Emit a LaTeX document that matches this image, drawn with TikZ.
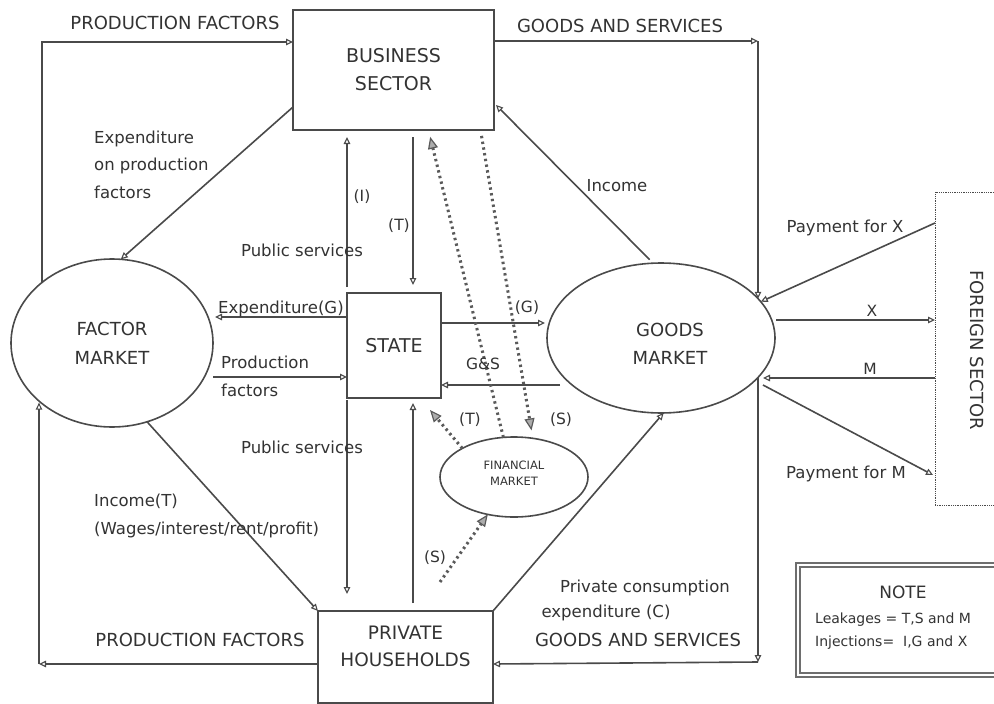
\documentclass[tikz,border=0pt]{standalone}
\usepackage{fontspec}
\setmainfont{DejaVu Sans}
\usetikzlibrary{arrows.meta,shapes.geometric,calc}
\definecolor{linec}{HTML}{4A4A4A}
\definecolor{textc}{HTML}{333333}
\definecolor{dotc}{HTML}{5A5A5A}
\begin{document}
\begin{tikzpicture}[x=1pt,y=-1pt,
  ln/.style={draw=linec, line width=1.6pt},
  conn/.style={ln, -{Triangle[open,length=7pt,width=6.5pt,line width=1.1pt]}},
  dconn/.style={draw=dotc, line width=3pt, line cap=butt, dash pattern=on 2.4pt off 3.4pt,
     -{Triangle[length=12pt,width=10pt,fill=dotc!50,line width=1.2pt]}},
  box/.style={draw=linec, line width=1.6pt, rectangle, inner sep=0pt, outer sep=0pt},
  oval/.style={draw=linec, line width=1.6pt, ellipse, inner sep=0pt, outer sep=0pt},
  captxt/.style={font=\fontsize{18}{28}\selectfont, text=textc, align=center, inner sep=0pt},
  lab/.style={font=\fontsize{16.5}{27.5}\selectfont, text=textc, inner sep=0pt},
  small/.style={font=\fontsize{15.5}{18}\selectfont, text=textc, inner sep=0pt},
]
\useasboundingbox (0,0) rectangle (994,704);
\fill[white] (0,0) rectangle (994,704);

% ---------- nodes ----------
\node[box, captxt, font=\fontsize{19}{28}\selectfont, minimum width=201pt, minimum height=120pt] (bus) at (393.5,70) {BUSINESS\\SECTOR};
\node[box, captxt, font=\fontsize{19}{28}\selectfont, minimum width=94pt, minimum height=105pt] (state) at (394,345.5) {STATE};
\node[oval, captxt, font=\fontsize{18}{29}\selectfont, minimum width=202pt, minimum height=168pt] (fm) at (112,343) {FACTOR\\MARKET};
\node[oval, minimum width=228pt, minimum height=150pt] (gm) at (661,338) {};
\node[captxt, font=\fontsize{18}{28}\selectfont] (gmtext) at (670,344) {GOODS\\MARKET};
\node[oval, minimum width=148pt, minimum height=80pt] (fin) at (514,477) {};
\node[captxt, font=\fontsize{11.5}{15.5}\selectfont] (fintext) at (514,473) {FINANCIAL\\MARKET};
\node[box, minimum width=175pt, minimum height=92pt] (hh) at (405.5,657) {};
\node[captxt, font=\fontsize{18.5}{27}\selectfont] (hhtext) at (405.5,646.5) {PRIVATE\\HOUSEHOLDS};
\node[draw=linec, line width=0.8pt, densely dotted, rectangle, minimum width=80pt, minimum height=313pt, inner sep=0pt, outer sep=0pt] (fs) at (975,348.5) {};
\node[captxt, rotate=-90] (fstext) at (977,350) {FOREIGN SECTOR};
\node[draw=linec!80, double=white, double distance=1.5pt, line width=2pt, rectangle, minimum width=220pt, minimum height=110pt, inner sep=0pt, outer sep=0pt] (note) at (908,620) {};
\node[captxt, font=\fontsize{17}{20}\selectfont] (notetitle) at (903,592) {NOTE};
\node[font=\fontsize{14}{17}\selectfont, text=textc, inner sep=0pt, anchor=west] (leak) at (815,620) {Leakages = T,S and M};
\node[font=\fontsize{14}{17}\selectfont, text=textc, inner sep=0pt, anchor=west] (inj) at (815,643) {Injections=\ \ I,G and X};

% ---------- corner coordinates ----------
\coordinate (tl) at (42,42);
\coordinate (tr) at (758,41);
\coordinate (br) at (758,662);
\coordinate (bl) at (39,664);
\coordinate (tx) at ($(state.north east)+(-28,0)$);

% ---------- outer loop ----------
\draw[conn] (tl |- fm.139) -- (tl) -- (bus.west |- tl);
\draw[conn] (bus.east |- tr) -- (tr);
\draw[conn] (tr) -- (tr |- gm.22);
\draw[conn] (tr |- gm.-22) -- (br);
\draw[conn] (br) -- (hh.east |- bl);
\draw[conn] (hh.west |- bl) -- (bl);
\draw[conn] (bl) -- (bl |- fm.220);

% ---------- inner solid connectors ----------
\draw[conn] ($(bus.south west)+(0,-23)$) -- (fm.84);
\draw[conn, shorten <=6pt, shorten >=7pt] (state.north west) -- (state.north west |- bus.south);
\draw[conn, shorten <=7pt, shorten >=8pt] (tx |- bus.south) -- (tx);
\draw[conn, shorten <=2pt, shorten >=17pt] (state.south west) -- (state.south west |- hh.north);
\draw[conn, shorten <=8pt, shorten >=5pt] (tx |- hh.north) -- (tx |- state.south);
\draw[conn] ($(state.north west)+(0,24)$) -- ($(fm.east)+(2,-26)$);
\draw[conn] ($(fm.east)+(0,34)$) -- ($(state.south west)+(0,-21)$);
\draw[conn] ($(state.north east)+(0,30)$) -- ($(gm.west)+(-2,-15)$);
\draw[conn] ($(gm.west)+(13,47)$) -- ($(state.south east)+(0,-13)$);
\draw[conn, shorten <=5pt] (gm.96) -- ($(bus.south east)+(2,-25)$);
\draw[conn] (fm.-66) -- (hh.north west);
\draw[conn] (hh.north east) -- (gm.-88);

% ---------- foreign sector ----------
\coordinate (xs) at ($(gm.east)+(1,-18)$);
\coordinate (mt) at ($(gm.east)+(-12,40)$);
\coordinate (pm) at ($(gm.east)+(-12,47)$);
\draw[conn] ($(fs.north west)+(0,31)$) -- (gm.20);
\draw[conn] (xs) -- (fs.west |- xs);
\draw[conn] (fs.west |- mt) -- (mt);
\draw[conn] (pm) -- ($(fs.north west)+(-2,283)$);

% ---------- dotted (financial) ----------
\coordinate (sfree) at (440,582);
\draw[dconn, shorten >=7pt] (fin.105) -- ($(bus.south)+(35,0)$);
\draw[dconn, shorten <=6pt, shorten >=8pt] ($(bus.south)+(87,0)$) -- (fin.64);
\draw[dconn] (fin.151) -- ($(state.south east)+(-11,12)$);
\draw[dconn] (sfree) -- (fin.235);

% ---------- labels ----------
\node[captxt] (lpf1) at (175,23) {PRODUCTION FACTORS};
\node[captxt] (lgs1) at (620,26) {GOODS AND SERVICES};
\node[captxt] (lpf2) at (200,640) {PRODUCTION FACTORS};
\node[captxt] (lgs2) at (638,640) {GOODS AND SERVICES};
\node[lab, anchor=west, align=left] (lexp) at (94,164.5) {Expenditure\\on production\\factors};
\node[small] (li) at (362,197) {(I)};
\node[small] (lt1) at (399,226) {(T)};
\node[lab] (lps1) at (302,250) {Public services};
\node[lab] (linc) at (617,186) {Income};
\node[lab, anchor=base west] (lexpg) at (218,313) {Expenditure(G)};
\node[lab, anchor=west, align=left] (lprod) at (221,376.5) {Production\\factors};
\node[small] (lg) at (527,308) {(G)};
\node[small] (lgs) at (483,364) {G\&S};
\node[lab] (lpx) at (845,228) {Payment for X};
\node[small] (lx) at (872,311) {X};
\node[small] (lm) at (870,369) {M};
\node[lab] (lpm) at (846,474) {Payment for M};
\node[small] (lt2) at (470,420) {(T)};
\node[small] (ls1) at (561,420) {(S)};
\node[lab] (lps2) at (302,447) {Public services};
\node[lab, anchor=west, align=left] (linct) at (94,516) {Income(T)\\(Wages/interest/rent/profit)};
\node[small] (ls2) at (435,558) {(S)};
\node[lab] (lpc1) at (645,588) {Private consumption};
\node[lab] (lpc2) at (606,613) {expenditure (C)};
\end{tikzpicture}
\end{document}
